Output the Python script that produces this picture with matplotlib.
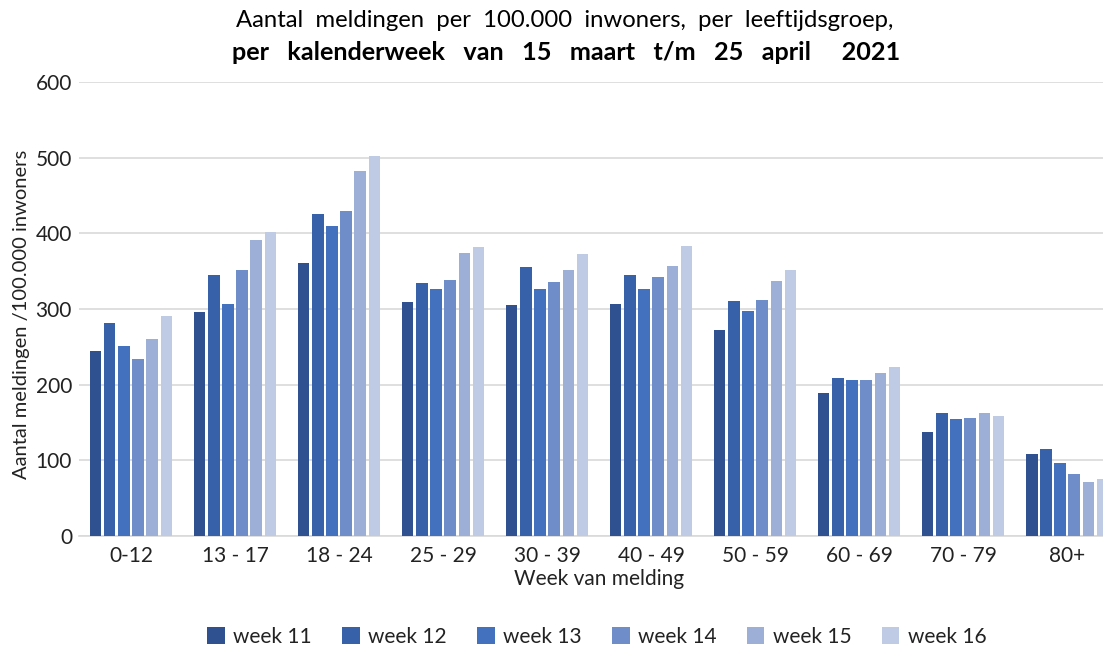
import numpy as np
import matplotlib
matplotlib.use("Agg")
import matplotlib.pyplot as plt

plt.rcParams['font.family'] = ['Lato', 'DejaVu Sans']

groups = ["0-12", "13 - 17", "18 - 24", "25 - 29", "30 - 39",
          "40 - 49", "50 - 59", "60 - 69", "70 - 79", "80+"]
weeks = ["week 11", "week 12", "week 13", "week 14", "week 15", "week 16"]

week11 = [245, 296, 361, 309, 305, 307, 272, 189, 138, 109]
week12 = [282, 345, 425, 334, 355, 345, 310, 209, 163, 115]
week13 = [251, 306, 410, 327, 327, 326, 297, 206, 155, 97]
week14 = [234, 352, 430, 339, 336, 342, 312, 206, 156, 82]
week15 = [260, 391, 482, 374, 352, 357, 337, 215, 162, 72]
week16 = [291, 402, 502, 382, 373, 383, 351, 224, 158, 76]
series = [week11, week12, week13, week14, week15, week16]

colors = ["#2F5190", "#3762A9", "#4471BE", "#6E8DC9", "#9DAED7", "#BFCAE4"]

fig = plt.figure(figsize=(11.03, 6.51), dpi=100)
# axes runs past the right edge, like the cropped original
ax = fig.add_axes([0.0716, 0.1766, 0.943, 0.6974])

x = np.arange(len(groups))
step = 0.1356
width = 0.109
for i, (vals, c, lab) in enumerate(zip(series, colors, weeks)):
    ax.bar(x + (i - 2.5) * step, vals, width, color=c, label=lab, zorder=3)

ax.set_xlim(-0.5, len(groups) - 0.5)
ax.set_ylim(0, 600)
ax.set_yticks(range(0, 601, 100))
ax.grid(axis='y', color='#D9D9D9', linewidth=1.2, zorder=0)
for s in ['top', 'right', 'left']:
    ax.spines[s].set_visible(False)
ax.spines['bottom'].set_color('#D9D9D9')
ax.spines['bottom'].set_linewidth(1.2)
ax.tick_params(axis='both', length=0, labelsize=15, colors='#222222')
ax.tick_params(axis='y', pad=5)
ax.tick_params(axis='x', pad=7)
ax.set_xticks(x)
ax.set_xticklabels(groups)

ax.set_xlabel("Week van melding", fontsize=15, labelpad=2, color='#222222')
fig.text(22 / 1103, 0.517, "Aantal meldingen /100.000 inwoners", rotation=90,
         ha='center', va='center', fontsize=14.5, color='#222222')

fig.text(0.512, 0.968, "Aantal  meldingen  per  100.000  inwoners,  per  leeftijdsgroep,",
         ha='center', va='center', fontsize=17.2)
fig.text(0.513, 0.920, "per   kalenderweek   van   15   maart   t/m   25   april     2021",
         ha='center', va='center', fontsize=18.2, fontweight='bold')

fig.legend(loc='center', bbox_to_anchor=(0.541, 0.022), ncol=6, frameon=False,
           fontsize=15, handlelength=0.85, handleheight=0.85, columnspacing=1.45,
           handletextpad=0.4, labelcolor='#222222')

fig.savefig("out.png", dpi=100)
